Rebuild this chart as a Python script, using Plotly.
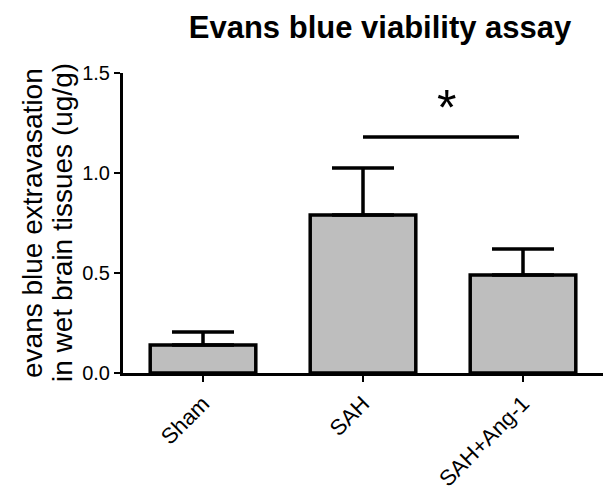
import plotly.graph_objects as go

categories = ["Sham", "SAH", "SAH+Ang-1"]
means = [0.14, 0.79, 0.49]
errors = [0.065, 0.235, 0.13]
sig_pair = ["SAH", "SAH+Ang-1"]
sig_level = 1.18
sig_label = "*"
y_ticks = [0.0, 0.5, 1.0, 1.5]
y_title_lines = ["evans blue extravasation", "in wet brain tissues (ug/g)"]
title_text = "Evans blue viability assay"

FONT = "Liberation Sans, Arial, sans-serif"

fig = go.Figure()
fig.add_trace(go.Bar(
    x=list(range(len(categories))),
    y=means,
    width=0.66,
    marker=dict(color="#bebebe", line=dict(color="black", width=3.5)),
    error_y=dict(type="data", array=errors, arrayminus=[0] * len(errors),
                 symmetric=False, color="black", thickness=3.5, width=31),
))

i0 = categories.index(sig_pair[0])
i1 = categories.index(sig_pair[1])
fig.add_shape(type="line", x0=i0, x1=i1 - 0.025, y0=sig_level, y1=sig_level,
              xref="x", yref="y", line=dict(color="black", width=3.5))
fig.add_annotation(x=(i0 + i1) / 2 + 0.02, y=sig_level + 0.145, text=sig_label,
                   showarrow=False, yanchor="middle", xanchor="center", xref="x", yref="y",
                   font=dict(size=50, color="black", family=FONT))

# two-line y-axis title
for xpos, line in zip([-0.1865, -0.125], y_title_lines):
    fig.add_annotation(x=xpos, y=0.5, xref="paper", yref="paper", text=line,
                       textangle=-90, showarrow=False, xanchor="center", yanchor="middle",
                       font=dict(size=28, color="black", family=FONT))

fig.update_layout(
    width=603, height=484,
    margin=dict(l=115, r=0, t=65, b=119),
    plot_bgcolor="white", paper_bgcolor="white",
    showlegend=False,
    font=dict(family=FONT, color="black"),
    title=dict(text=f"<b>{title_text}</b>", x=0.617, xanchor="center", xref="container",
               y=0.961, yanchor="middle", yref="container", font=dict(size=31, color="black")),
    xaxis=dict(
        range=[-0.5, 2.55], automargin=False,
        tickmode="array", tickvals=list(range(len(categories))), ticktext=categories,
        tickangle=-45, ticks="outside", ticklen=6, tickwidth=2, tickcolor="black",
        showline=True, linecolor="black", linewidth=3, showgrid=False, zeroline=False,
        tickfont=dict(size=22),
    ),
    yaxis=dict(
        range=[0, 1.5], automargin=False,
        tickmode="array", tickvals=y_ticks, ticktext=[f"{v:.1f}" for v in y_ticks],
        ticks="outside", ticklen=6, tickwidth=2, tickcolor="black",
        showline=True, linecolor="black", linewidth=3, showgrid=False, zeroline=False,
        tickfont=dict(size=20),
    ),
)

fig.write_html("out.html")
